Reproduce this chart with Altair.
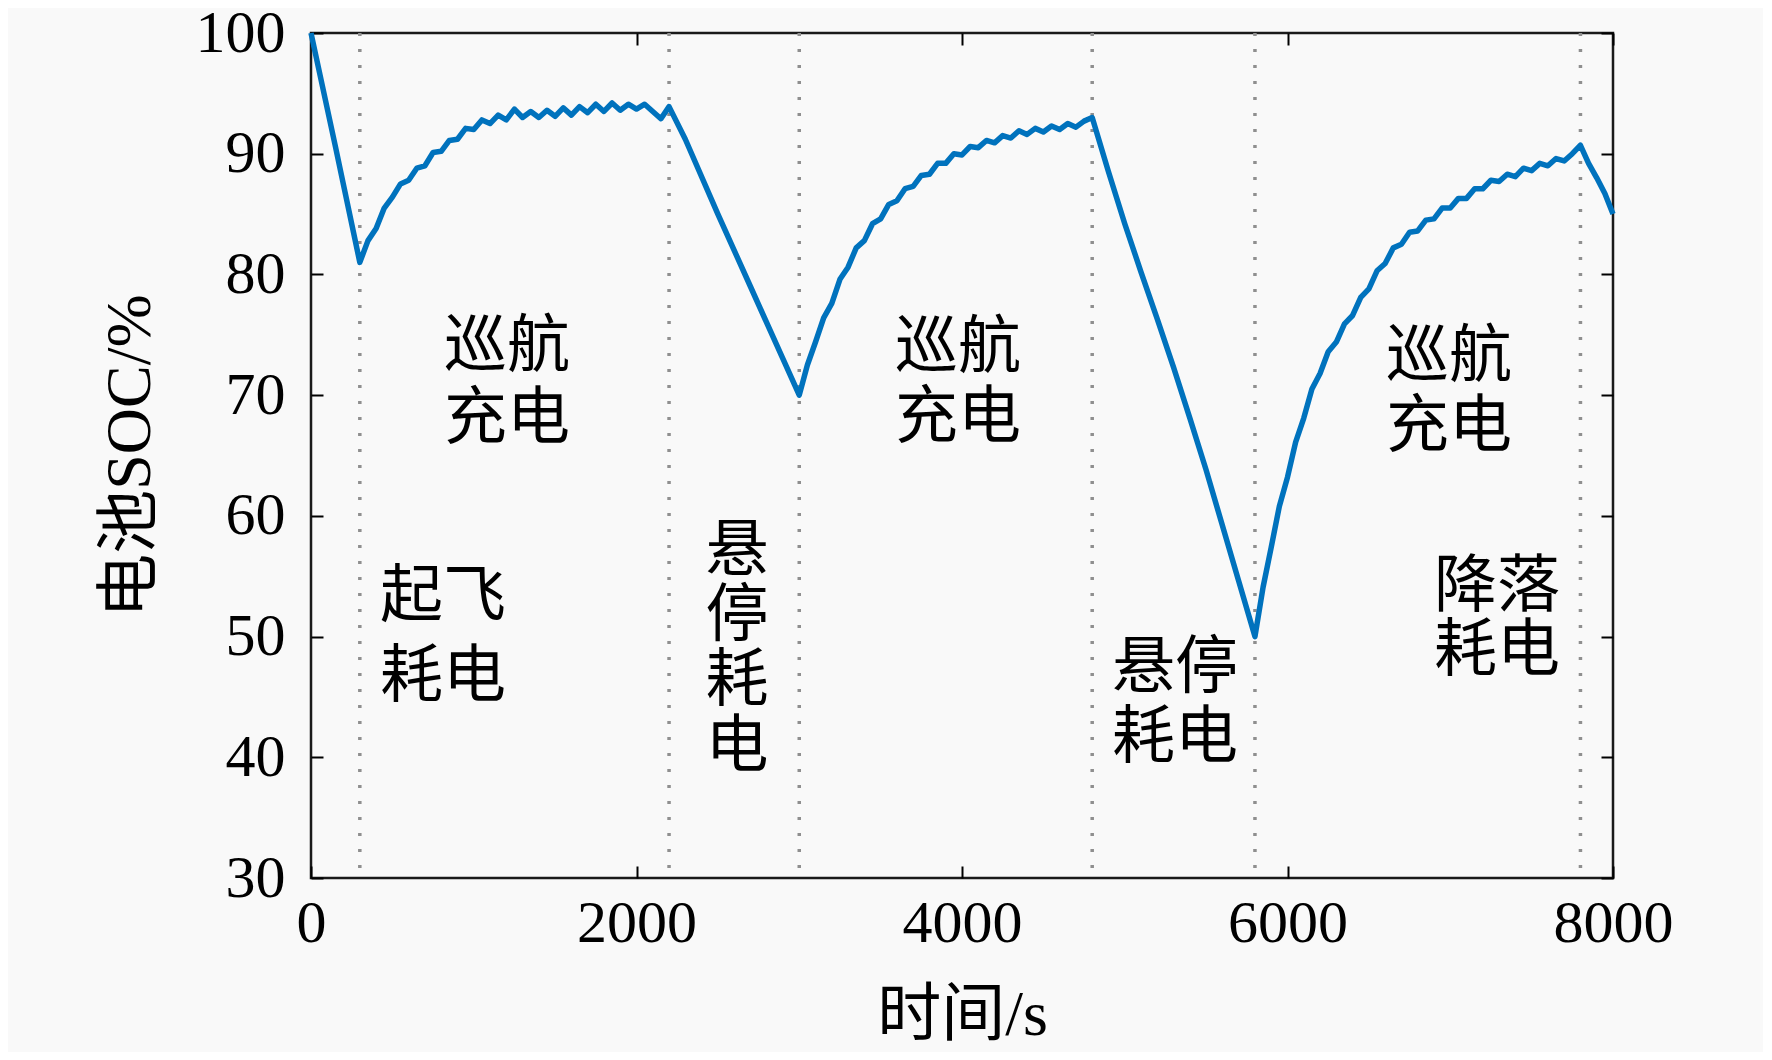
import altair as alt
import pandas as pd

# ---- data ----
time_s = [0, 150, 300,
          350, 400, 450, 500, 550, 600, 650, 700, 750, 800, 850, 900, 950, 1000,
          1050, 1100, 1150, 1200, 1250, 1300, 1350, 1400, 1450, 1500, 1550, 1600,
          1650, 1700, 1750, 1800, 1850, 1900, 1950, 2000, 2050, 2100, 2150, 2200,
          2300, 2500, 2700, 2900, 3000,
          3050, 3100, 3150, 3200, 3250, 3300, 3350, 3400, 3450, 3500, 3550, 3600,
          3650, 3700, 3750, 3800, 3850, 3900, 3950, 4000, 4050, 4100, 4150, 4200,
          4250, 4300, 4350, 4400, 4450, 4500, 4550, 4600, 4650, 4700, 4750, 4800,
          4900, 5000, 5100, 5200, 5300, 5400, 5500, 5600, 5700, 5800,
          5850, 5900, 5950, 6000, 6050, 6100, 6150, 6200, 6250, 6300, 6350, 6400,
          6450, 6500, 6550, 6600, 6650, 6700, 6750, 6800, 6850, 6900, 6950, 7000,
          7050, 7100, 7150, 7200, 7250, 7300, 7350, 7400, 7450, 7500, 7550, 7600,
          7650, 7700, 7750, 7800,
          7850, 7900, 7950, 8000]
soc = [100.0, 90.6, 81.0,
       82.8, 83.8, 85.5, 86.4, 87.5, 87.8, 88.8, 89.0, 90.1, 90.2, 91.1, 91.2, 92.1, 92.0,
       92.8, 92.5, 93.2, 92.8, 93.7, 93.0, 93.5, 93.0, 93.6, 93.1, 93.8, 93.2,
       93.9, 93.4, 94.1, 93.5, 94.2, 93.6, 94.1, 93.7, 94.1, 93.5, 92.9, 93.9,
       91.2, 85.0, 79.0, 73.0, 70.0,
       72.5, 74.4, 76.4, 77.6, 79.6, 80.6, 82.2, 82.8, 84.2, 84.6, 85.8, 86.1,
       87.1, 87.3, 88.2, 88.3, 89.2, 89.2, 90.0, 89.9, 90.6, 90.5, 91.1, 90.9,
       91.5, 91.3, 91.9, 91.6, 92.1, 91.8, 92.3, 92.0, 92.5, 92.2, 92.7, 93.0,
       88.5, 84.2, 80.2, 76.3, 72.3, 68.1, 63.8, 59.2, 54.6, 50.0,
       54.1, 57.4, 60.8, 63.2, 66.1, 68.1, 70.5, 71.8, 73.6, 74.4, 75.9, 76.6,
       78.1, 78.8, 80.3, 80.9, 82.2, 82.5, 83.5, 83.6, 84.5, 84.6, 85.5, 85.5,
       86.3, 86.3, 87.1, 87.1, 87.8, 87.7, 88.3, 88.1, 88.8, 88.6, 89.2, 89.0,
       89.6, 89.4, 90.0, 90.7,
       89.2, 88.0, 86.7, 85.0]

phase_t = [300, 2200, 3000, 4800, 5800, 7800]

label_text = ["巡航", "充电", "巡航", "充电", "巡航", "充电",
              "起飞", "耗电", "悬", "停", "耗", "电",
              "悬停", "耗电", "降落", "耗电"]
label_t = [1204, 1204, 3975, 3975, 6992, 6992,
           811, 811, 2617, 2617, 2617, 2617,
           5309, 5309, 7287, 7287]
label_v = [74.4, 68.4, 74.3, 68.5, 73.6, 67.8,
           53.7, 47.1, 57.5, 52.1, 46.7, 41.3,
           47.8, 42.0, 54.5, 49.2]

x_ticks = [0, 2000, 4000, 6000, 8000]
y_ticks = [30, 40, 50, 60, 70, 80, 90, 100]

FONT = "Liberation Serif, Noto Sans CJK SC"
W, H = 1302, 845

df_curve = pd.DataFrame({"t": time_s, "v": soc})
df_phase = pd.DataFrame({"t": phase_t})
df_lab = pd.DataFrame({"t": label_t, "v": label_v, "s": label_text})

xscale = alt.Scale(domain=[0, 8000], nice=False, zero=False)
yscale = alt.Scale(domain=[30, 100], nice=False, zero=False)

tick_style = dict(offset=-12, domain=False, tickSize=12, tickWidth=2,
                  tickColor="black", grid=False)

rules = alt.Chart(df_phase).mark_rule(
    color="#8f8f8f", strokeWidth=3.5, strokeDash=[3, 13]
).encode(
    x=alt.X("t:Q", scale=xscale, axis=alt.Axis(
        orient="bottom", values=x_ticks, format="d", title="时间/s",
        labelPadding=16, labelFont=FONT, labelFontSize=60, labelColor="black",
        labelFlush=False, labelOverlap=False,
        titleFont=FONT, titleFontSize=64, titleFontWeight="normal", titleColor="black",
        titleX=W / 2, titleY=149, titleAlign="center", titleBaseline="middle",
        **tick_style))
)

line = alt.Chart(df_curve).mark_line(
    color="#0072BD", strokeWidth=5.5, strokeJoin="round"
).encode(
    x=alt.X("t:Q", scale=xscale, axis=None),
    y=alt.Y("v:Q", scale=yscale, axis=alt.Axis(
        orient="left", values=y_ticks, format="d", title="电池SOC/%",
        labelPadding=26, labelFont=FONT, labelFontSize=60, labelColor="black",
        labelOverlap=False,
        titleFont=FONT, titleFontSize=64, titleFontWeight="normal", titleColor="black",
        titleX=-193, titleY=H / 2, titleAlign="center", titleBaseline="middle",
        **tick_style))
)

texts = alt.Chart(df_lab).mark_text(
    font=FONT, fontSize=63, color="black", align="center", baseline="middle", dy=5
).encode(
    x=alt.X("t:Q", scale=xscale, axis=alt.Axis(
        orient="top", values=x_ticks, labels=False, title=None, **tick_style)),
    y=alt.Y("v:Q", scale=yscale, axis=alt.Axis(
        orient="right", values=y_ticks, labels=False, title=None, **tick_style)),
    text="s:N"
)

chart = alt.layer(rules, line, texts).resolve_axis(
    x="independent", y="independent"
).properties(
    width=W, height=H,
    autosize=alt.AutoSizeParams(type="none"),
    padding={"left": 303, "top": 25, "right": 150, "bottom": 174},
    background="#f9f9f9"
).configure_view(stroke="#1a1a1a", strokeWidth=2.5)

chart.save("out.html", embed_options={"renderer": "svg", "actions": False})
